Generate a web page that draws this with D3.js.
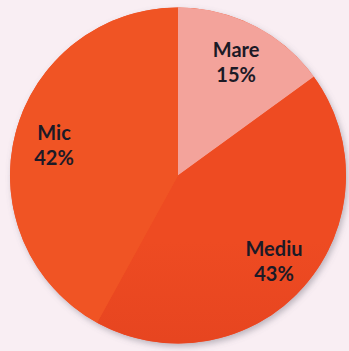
<!DOCTYPE html>
<html>
<head>
<meta charset="utf-8">
<script src="https://cdn.jsdelivr.net/npm/d3@7"></script>
<style>
  html, body { margin: 0; padding: 0; background: #f9eef3; }
  svg { display: block; }
</style>
</head>
<body>
<div id="chart"></div>
<script>
// slice data, clockwise from 12 o'clock
const categories = ['Mare', 'Mediu', 'Mic'];
const values = [15, 43, 42];
const percentLabels = ['15%', '43%', '42%'];

const width = 349, height = 351;
const cx = 178, cy = 175.5, radius = 168;

const svg = d3.select('#chart').append('svg')
    .attr('width', width)
    .attr('height', height);

svg.append('rect')
    .attr('width', width)
    .attr('height', height)
    .attr('fill', '#f9eef3');

const defs = svg.append('defs');

// soft grey shadow on the lower right
const shadow = defs.append('filter')
    .attr('id', 'shadow')
    .attr('x', '-20%').attr('y', '-20%')
    .attr('width', '140%').attr('height', '140%');
shadow.append('feDropShadow')
    .attr('dx', 2).attr('dy', 3)
    .attr('stdDeviation', 3)
    .attr('flood-color', '#6e6a78')
    .attr('flood-opacity', 0.45);

// the middle slice darkens towards the bottom
const grad = defs.append('linearGradient')
    .attr('id', 'mediuGrad')
    .attr('gradientUnits', 'userSpaceOnUse')
    .attr('x1', 0).attr('y1', cy - 110)
    .attr('x2', 0).attr('y2', cy + radius);
grad.append('stop').attr('offset', '0%').attr('stop-color', '#ee4b22');
grad.append('stop').attr('offset', '55%').attr('stop-color', '#e3421f');
grad.append('stop').attr('offset', '100%').attr('stop-color', '#c4301a');

const color = d3.scaleOrdinal()
    .domain(categories)
    .range(['#f3a39b', 'url(#mediuGrad)', '#f05424']);

const pie = d3.pie()
    .sort(null)
    .value(d => d.value);

const data = categories.map((c, i) => ({ name: c, value: values[i], label: percentLabels[i] }));
const arcs = pie(data);

const arc = d3.arc().innerRadius(0).outerRadius(radius);
const labelArc = d3.arc().innerRadius(128).outerRadius(128);

const g = svg.append('g')
    .attr('transform', `translate(${cx},${cy})`);

g.append('circle')
    .attr('r', radius)
    .attr('fill', '#f05424')
    .attr('filter', 'url(#shadow)');

g.selectAll('path.slice')
    .data(arcs)
    .join('path')
    .attr('class', 'slice')
    .attr('d', arc)
    .attr('fill', d => color(d.data.name));

const labels = g.selectAll('text.label')
    .data(arcs)
    .join('text')
    .attr('class', 'label')
    .attr('transform', d => {
        const [x, y] = labelArc.centroid(d);
        return `translate(${x},${y})`;
    })
    .attr('text-anchor', 'middle')
    .style('font-family', 'Lato, "Open Sans", sans-serif')
    .style('font-weight', 'bold')
    .style('font-size', '20px')
    .attr('fill', '#1c1a26');

labels.append('tspan')
    .attr('x', 0)
    .attr('y', -4)
    .text(d => d.data.name);
labels.append('tspan')
    .attr('x', 0)
    .attr('y', 21)
    .text(d => d.data.label);
</script>
</body>
</html>
